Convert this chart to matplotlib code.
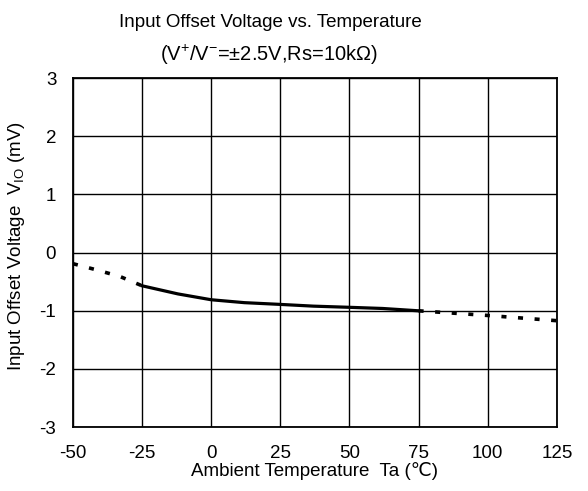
import matplotlib
matplotlib.use("Agg")
import matplotlib.pyplot as plt

plt.rcParams['font.family'] = ['Liberation Sans', 'DejaVu Sans']
plt.rcParams['axes.unicode_minus'] = False

# data
temp_low = [-50, -42, -33, -25]
vio_low = [-0.19, -0.29, -0.41, -0.57]
temp_mid = [-25, -12, 0, 12, 25, 37, 50, 62, 75]
vio_mid = [-0.57, -0.71, -0.81, -0.86, -0.89, -0.92, -0.94, -0.96, -1.0]
temp_high = [75, 100, 125]
vio_high = [-1.0, -1.08, -1.17]

xticks = [-50, -25, 0, 25, 50, 75, 100, 125]
yticks = [-3, -2, -1, 0, 1, 2, 3]

fig = plt.figure(figsize=(5.88, 4.91), dpi=100)
ax = fig.add_axes([0.124, 0.130, 0.823, 0.711])

ax.plot(temp_low, vio_low, color='black', lw=2.6, ls=(0, (1.4, 3.2)))
ax.plot(temp_mid, vio_mid, color='black', lw=2.3, ls='-')
ax.plot(temp_high, vio_high, color='black', lw=2.6, ls=(0, (1.4, 3.2)))

ax.set_xlim(-50, 125)
ax.set_ylim(-3, 3)
ax.set_xticks(xticks)
ax.set_yticks(yticks)
ax.grid(True, color='black', lw=1.0)
for s in ax.spines.values():
    s.set_linewidth(1.3)
ax.tick_params(length=0, labelsize=13.5, pad=13)
ax.tick_params(axis='y', pad=12)

ax.set_xlabel('Ambient Temperature  Ta (\u2103)', fontsize=13.5, labelpad=0)
ax.set_ylabel('Input Offset Voltage  V$_{\\mathregular{IO}}$ (mV)', fontsize=13.5, labelpad=1)
ax.yaxis.set_label_coords(-0.095, 0.52)

fig.text(0.46, 0.955, 'Input Offset Voltage vs. Temperature', ha='center', va='center', fontsize=13.5)
fig.text(0.457, 0.888, '(V$^{\\mathregular{+}}$/V$^{\\mathregular{-}}$=±2.5V,Rs=10kΩ)', ha='center', va='center', fontsize=14.5)

fig.savefig('out.png', dpi=100)
